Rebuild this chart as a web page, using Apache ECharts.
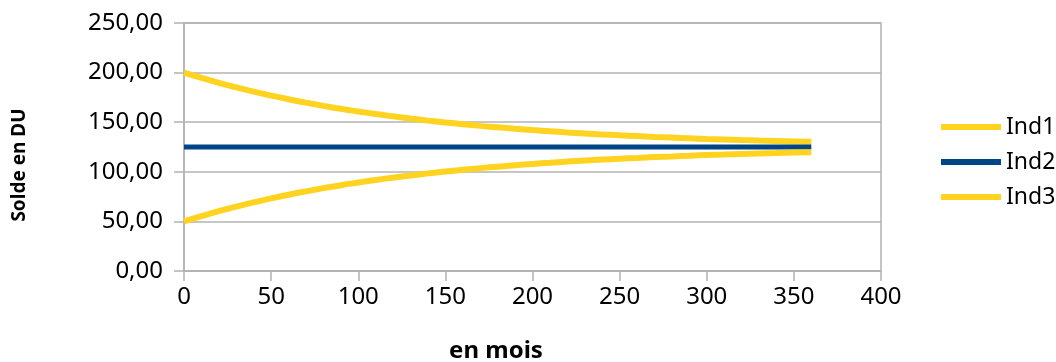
<!DOCTYPE html>
<html>
<head>
<meta charset="utf-8">
<title>Solde en DU</title>
<script src="https://cdn.jsdelivr.net/npm/echarts@6/dist/echarts.min.js"></script>
<style>
  html, body { margin: 0; padding: 0; background: #fff; }
  #chart { width: 1056px; height: 362px; }
</style>
</head>
<body>
<div id="chart"></div>
<script>
// mois (abscisse), un point tous les 10 mois
var mois = [0, 10, 20, 30, 40, 50, 60, 70, 80, 90, 100, 110, 120, 130, 140, 150, 160, 170, 180,
  190, 200, 210, 220, 230, 240, 250, 260, 270, 280, 290, 300, 310, 320, 330, 340, 350, 360];

// valeurs
var ind1 = [200, 194.7, 189.7, 185.1, 180.8, 176.8, 173.1, 169.7, 166.5, 163.5, 160.8, 158.2,
  155.9, 153.7, 151.6, 149.7, 148.0, 146.3, 144.8, 143.4, 142.1, 140.9, 139.7, 138.7, 137.7,
  136.8, 136.0, 135.2, 134.5, 133.8, 133.1, 132.6, 132.0, 131.5, 131.1, 130.6, 130.2];
var ind2 = [125, 125, 125, 125, 125, 125, 125, 125, 125, 125, 125, 125, 125, 125, 125, 125, 125,
  125, 125, 125, 125, 125, 125, 125, 125, 125, 125, 125, 125, 125, 125, 125, 125, 125, 125, 125, 125];
var ind3 = [50, 55.3, 60.3, 64.9, 69.2, 73.2, 76.9, 80.3, 83.5, 86.5, 89.2, 91.8, 94.1, 96.3,
  98.4, 100.3, 102.0, 103.7, 105.2, 106.6, 107.9, 109.1, 110.3, 111.3, 112.3, 113.2, 114.0,
  114.8, 115.5, 116.2, 116.9, 117.4, 118.0, 118.5, 118.9, 119.4, 119.8];

var noms = ['Ind1', 'Ind2', 'Ind3'];
var couleurs = ['#ffd320', '#004586', '#ffd320'];

function paires(vals) {
  return mois.map(function (m, i) { return [m, vals[i]]; });
}

var myChart = echarts.init(document.getElementById('chart'));

var gris = '#b3b3b3';
var police = '"Noto Sans", "DejaVu Sans", sans-serif';

var option = {
  animation: false,
  textStyle: { fontFamily: police },
  grid: {
    left: 184, right: 175, top: 23, bottom: 91,
    show: true, borderColor: gris, borderWidth: 1.5
  },
  legend: {
    orient: 'vertical',
    left: 936,
    top: 110,
    icon: 'rect',
    itemWidth: 60,
    itemHeight: 6,
    itemGap: 11,
    data: noms,
    textStyle: { fontSize: 23, color: '#000', lineHeight: 24, fontFamily: police }
  },
  xAxis: {
    type: 'value',
    min: 0, max: 400, interval: 50,
    axisLine: { show: true, lineStyle: { color: gris, width: 1.5 } },
    axisTick: { show: true, length: 10, lineStyle: { color: gris, width: 1.5 } },
    splitLine: { show: false },
    axisLabel: { fontSize: 24, color: '#000', margin: 14, fontFamily: police }
  },
  yAxis: {
    type: 'value',
    min: 0, max: 250, interval: 50,
    axisLine: { show: true, lineStyle: { color: gris, width: 1.5 } },
    axisTick: { show: true, length: 10, lineStyle: { color: gris, width: 1.5 } },
    splitLine: { show: true, lineStyle: { color: gris, width: 1.5 } },
    axisLabel: {
      fontSize: 24, color: '#000', margin: 21, fontFamily: police,
      formatter: function (v) { return v.toFixed(2).replace('.', ','); }
    }
  },
  graphic: [
    {
      type: 'text', x: 20, y: 165, rotation: Math.PI / 2,
      style: {
        text: 'Solde en DU', fill: '#000', font: 'bold 19px ' + police,
        align: 'center', verticalAlign: 'middle'
      }
    },
    {
      type: 'text', x: 496, y: 351,
      style: {
        text: 'en mois', fill: '#000', font: 'bold 24px ' + police,
        align: 'center', verticalAlign: 'middle'
      }
    }
  ],
  series: [
    { name: noms[0], type: 'line', data: paires(ind1), smooth: true, showSymbol: false,
      lineStyle: { color: couleurs[0], width: 6 }, itemStyle: { color: couleurs[0] } },
    { name: noms[1], type: 'line', data: paires(ind2), showSymbol: false,
      lineStyle: { color: couleurs[1], width: 5 }, itemStyle: { color: couleurs[1] } },
    { name: noms[2], type: 'line', data: paires(ind3), smooth: true, showSymbol: false,
      lineStyle: { color: couleurs[2], width: 6 }, itemStyle: { color: couleurs[2] } }
  ]
};

myChart.setOption(option);
</script>
</body>
</html>
